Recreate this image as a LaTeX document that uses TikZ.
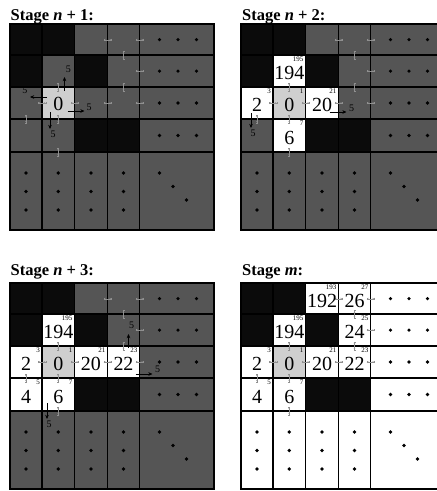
\documentclass[tikz,border=0pt]{standalone}
\usepackage{fontspec}
\setmainfont{Liberation Serif}
\usetikzlibrary{arrows.meta}
\definecolor{cblack}{HTML}{0B0B0B}
\definecolor{cgray}{HTML}{555555}
\definecolor{clight}{HTML}{CFCFCF}
\definecolor{tinyc}{HTML}{909090}
\def\colx{{0,32,64.5,97.5,129.5,204}}
\def\rowy{{0,31.3,63,95,128,206}}
\tikzset{
  cell/.style={draw=black, line width=1.8pt, inner sep=0pt, outer sep=0pt, anchor=north west},
  big/.style={font=\fontsize{20}{20}\selectfont, inner sep=0pt},
  sup/.style={font=\fontsize{7}{7}\selectfont, inner sep=0pt, anchor=north east},
  lab/.style={font=\fontsize{10}{10}\selectfont, inner sep=0pt},
  ttl/.style={font=\fontsize{16.5}{16.5}\selectfont\bfseries, anchor=base west, inner sep=0pt},
  tinyarr/.style={draw=tinyc, line width=0.3pt, {Bar[width=2pt]}-{Bar[width=2pt]}},
  tinyhead/.style={draw=tinyc, line width=0.3pt, {Stealth[length=1.4pt,width=1.6pt]}-{Stealth[length=1.4pt,width=1.6pt]}, shorten <=0.6pt, shorten >=0.6pt},
  bigarr/.style={draw=black, line width=0.6pt, -{Stealth[length=4.2pt,width=3.6pt]}},
}
\newcommand\panelcells[2]{%
  \foreach \f [count=\k from 0] in {#2} {
    \pgfmathtruncatemacro\r{int(\k/5)}
    \pgfmathtruncatemacro\c{mod(\k,5)}
    \pgfmathsetmacro\xa{\colx[\c]}
    \pgfmathsetmacro\xb{\colx[\c+1]}
    \pgfmathsetmacro\ya{\rowy[\r]}
    \pgfmathsetmacro\yb{\rowy[\r+1]}
    \node[cell, fill=\f, minimum width={(\xb-\xa)*1pt}, minimum height={(\yb-\ya)*1pt}] (#1-\r-\c) at (\xa,\ya) {};
  }
}
\newcommand\paneldots[1]{%
  \foreach \r in {0,1,2,3} \foreach \dx in {20,38.5,57}
    \fill ([xshift=\dx pt]#1-\r-4.west) circle[radius=1.8pt];
  \foreach \c in {0,1,2,3} \foreach \dy in {21,39.5,58}
    \fill ([yshift=-\dy pt]#1-4-\c.north) circle[radius=1.8pt];
  \foreach \d in {20,33.5,47}
    \fill ([shift={(\d pt,-\d pt-1pt)}]#1-4-4.north west) circle[radius=1.8pt];
}
\newcommand\paneltiny[1]{%
  \foreach \r/\c in {0/2,0/3,1/3,2/0,2/1,2/2,2/3}{
    \draw[tinyarr] ([xshift=-4pt]#1-\r-\c.east) -- ([xshift=4pt]#1-\r-\c.east);
    \draw[tinyhead] ([xshift=-4pt]#1-\r-\c.east) -- ([xshift=4pt]#1-\r-\c.east);}
  \foreach \r/\c in {0/3,1/3,1/1,2/0,2/1,3/1}{
    \draw[tinyarr] ([yshift=4pt]#1-\r-\c.south) -- ([yshift=-4pt]#1-\r-\c.south);
    \draw[tinyhead] ([yshift=4pt]#1-\r-\c.south) -- ([yshift=-4pt]#1-\r-\c.south);}
}
\newcommand\cellnum[5]{%
  \node[big] (#1-v-#2-#3) at ([yshift=-2pt]#1-#2-#3) {#4};
  \node[sup] (#1-s-#2-#3) at ([shift={(-2pt,-1.8pt)}]#1-#2-#3.north east) {#5};
}
\begin{document}
\begin{tikzpicture}[x=1pt,y=-1pt]
\path[use as bounding box] (0,0) rectangle (437,491);
\clip (0,0) rectangle (437,491);
\fill[white] (0,0) rectangle (437,491);

% titles
\node[ttl] (T1) at (10.5,20) {Stage \textit{n} + 1:};
\node[ttl] (T2) at (242,20) {Stage \textit{n} + 2:};
\node[ttl] (T3) at (10.5,275) {Stage \textit{n} + 3:};
\node[ttl] (T4) at (242,275) {Stage \textit{m}:};

% ---------- Stage n+1
\begin{scope}[shift={(10,24)}]
\panelcells{P1}{cblack,cblack,cgray,cgray,cgray,
 cblack,cgray,cblack,cgray,cgray,
 cgray,clight,cgray,cgray,cgray,
 cgray,cgray,cblack,cblack,cgray,
 cgray,cgray,cgray,cgray,cgray}
\paneldots{P1}
\paneltiny{P1}
\node[big] (P1-v-2-1) at ([yshift=-1pt]P1-2-1) {0};
\draw[bigarr] ([shift={(-10pt,-4pt)}]P1-2-1.north east) -- ([shift={(-10pt,10pt)}]P1-2-1.north east);
\node[lab] (P1-l1) at ([shift={(-6pt,18pt)}]P1-2-1.north east) {5};
\draw[bigarr] ([shift={(5pt,-10pt)}]P1-2-1.north west) -- ([shift={(-12pt,-10pt)}]P1-2-1.north west);
\node[lab] (P1-l2) at ([shift={(-17pt,-3pt)}]P1-2-1.north west) {5};
\draw[bigarr] ([shift={(-7pt,8pt)}]P1-2-1.south east) -- ([shift={(10pt,8pt)}]P1-2-1.south east);
\node[lab] (P1-l3) at ([shift={(14.5pt,12pt)}]P1-2-1.south east) {5};
\draw[bigarr] ([shift={(8pt,7pt)}]P1-2-1.south west) -- ([shift={(8pt,-10pt)}]P1-2-1.south west);
\node[lab] (P1-l4) at ([shift={(11pt,-15pt)}]P1-2-1.south west) {5};
\end{scope}

% ---------- Stage n+2
\begin{scope}[shift={(241,24)}]
\panelcells{P2}{cblack,cblack,cgray,cgray,cgray,
 cblack,white,cblack,cgray,cgray,
 white,clight,white,cgray,cgray,
 cgray,white,cblack,cblack,cgray,
 cgray,cgray,cgray,cgray,cgray}
\paneldots{P2}
\paneltiny{P2}
\cellnum{P2}{1}{1}{194}{195}
\cellnum{P2}{2}{0}{2}{3}
\cellnum{P2}{2}{1}{0}{1}
\cellnum{P2}{2}{2}{20}{21}
\cellnum{P2}{3}{1}{6}{7}
\draw[bigarr] ([shift={(-9pt,7pt)}]P2-2-2.south east) -- ([shift={(8pt,7pt)}]P2-2-2.south east);
\node[lab] (P2-l1) at ([shift={(13pt,11pt)}]P2-2-2.south east) {5};
\draw[bigarr] ([shift={(10pt,6pt)}]P2-2-0.south west) -- ([shift={(10pt,-9pt)}]P2-2-0.south west);
\node[lab] (P2-l2) at ([shift={(12pt,-14pt)}]P2-2-0.south west) {5};
\end{scope}

% ---------- Stage n+3
\begin{scope}[shift={(10,283)}]
\panelcells{P3}{cblack,cblack,cgray,cgray,cgray,
 cblack,white,cblack,cgray,cgray,
 white,clight,white,white,cgray,
 white,white,cblack,cblack,cgray,
 cgray,cgray,cgray,cgray,cgray}
\paneldots{P3}
\paneltiny{P3}
\cellnum{P3}{1}{1}{194}{195}
\cellnum{P3}{2}{0}{2}{3}
\cellnum{P3}{2}{1}{0}{1}
\cellnum{P3}{2}{2}{20}{21}
\cellnum{P3}{2}{3}{22}{23}
\cellnum{P3}{3}{0}{4}{5}
\cellnum{P3}{3}{1}{6}{7}
\draw[bigarr] ([shift={(-11pt,-2pt)}]P3-2-3.north east) -- ([shift={(-11pt,12pt)}]P3-2-3.north east);
\node[lab] (P3-l1) at ([shift={(-8pt,21pt)}]P3-2-3.north east) {5};
\draw[bigarr] ([shift={(-4pt,4pt)}]P3-2-3.south east) -- ([shift={(13pt,4pt)}]P3-2-3.south east);
\node[lab] (P3-l2) at ([shift={(18pt,9pt)}]P3-2-3.south east) {5};
\draw[bigarr] ([shift={(5pt,8pt)}]P3-3-1.south west) -- ([shift={(5pt,-8pt)}]P3-3-1.south west);
\node[lab] (P3-l3) at ([shift={(7pt,-13pt)}]P3-3-1.south west) {5};
\end{scope}

% ---------- Stage m
\begin{scope}[shift={(241,283)}]
\panelcells{P4}{cblack,cblack,white,white,white,
 cblack,white,cblack,white,white,
 white,clight,white,white,white,
 white,white,cblack,cblack,white,
 white,white,white,white,white}
\paneldots{P4}
\paneltiny{P4}
\cellnum{P4}{0}{2}{192}{193}
\cellnum{P4}{0}{3}{26}{27}
\cellnum{P4}{1}{1}{194}{195}
\cellnum{P4}{1}{3}{24}{25}
\cellnum{P4}{2}{0}{2}{3}
\cellnum{P4}{2}{1}{0}{1}
\cellnum{P4}{2}{2}{20}{21}
\cellnum{P4}{2}{3}{22}{23}
\cellnum{P4}{3}{0}{4}{5}
\cellnum{P4}{3}{1}{6}{7}
\end{scope}
\end{tikzpicture}
\end{document}
